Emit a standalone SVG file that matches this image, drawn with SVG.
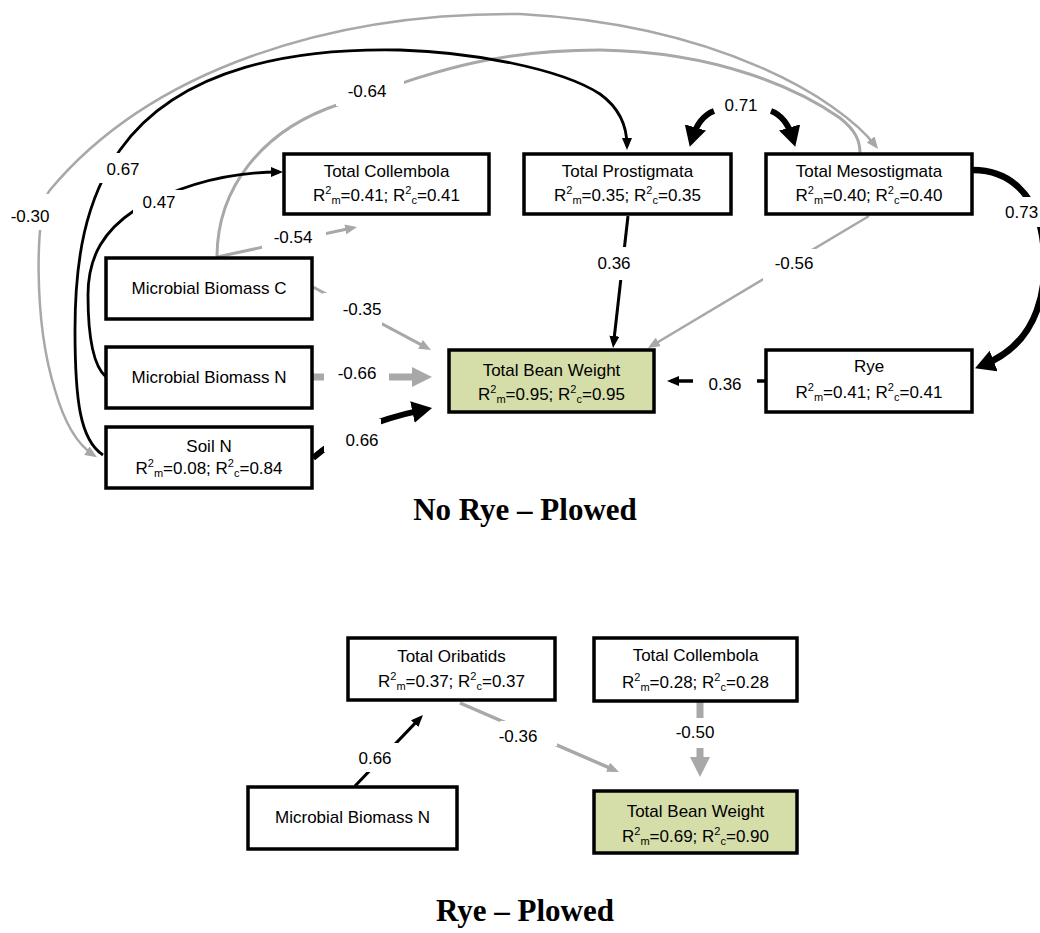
<svg xmlns="http://www.w3.org/2000/svg" width="1040" height="933" viewBox="0 0 1040 933">
  <style>
    .box { fill: #ffffff; stroke: #000000; stroke-width: 3.5; }
    .bean { fill: #d5dda9; }
    .t { font-family: "Liberation Sans", Arial, sans-serif; font-size: 17px; text-anchor: middle; fill: #000000; }
    .s { font-size: 11px; }
    .k { stroke: #000000; fill: none; }
    .g { stroke: #a8a8a8; fill: none; }
    .bg { fill: #ffffff; }
    .title { font-family: "Liberation Serif", "Times New Roman", serif; font-weight: bold; font-size: 31px; text-anchor: middle; fill: #000000; }
  </style>
  <defs>
    <marker id="ak" viewBox="0 0 12 10" refX="8" refY="5" markerWidth="12" markerHeight="10" markerUnits="userSpaceOnUse" orient="auto">
      <path d="M0,0 L12,5 L0,10 z" fill="#000000"/>
    </marker>
    <marker id="ag" viewBox="0 0 12 10" refX="8" refY="5" markerWidth="12" markerHeight="10" markerUnits="userSpaceOnUse" orient="auto">
      <path d="M0,0 L12,5 L0,10 z" fill="#a8a8a8"/>
    </marker>
    <marker id="ag-start" viewBox="0 0 12 10" refX="8" refY="5" markerWidth="12" markerHeight="10" markerUnits="userSpaceOnUse" orient="auto-start-reverse">
      <path d="M0,0 L12,5 L0,10 z" fill="#a8a8a8"/>
    </marker>
    <marker id="AK" viewBox="0 0 20 22" refX="12" refY="11" markerWidth="20" markerHeight="22" markerUnits="userSpaceOnUse" orient="auto">
      <path d="M0,0 L20,11 L0,22 z" fill="#000000"/>
    </marker>
    <marker id="AG" viewBox="0 0 20 20" refX="12" refY="10" markerWidth="20" markerHeight="20" markerUnits="userSpaceOnUse" orient="auto">
      <path d="M0,0 L20,10 L0,20 z" fill="#a8a8a8"/>
    </marker>
  </defs>

  <rect x="0" y="0" width="1040" height="933" fill="#ffffff"/>

  <!-- paths between variables -->
  <g id="connectors">
    <!-- upper model: No Rye - Plowed -->
    <path class="g" stroke-width="2.5" marker-start="url(#ag-start)" marker-end="url(#ag)" d="M 875.6 145.8 C 840 100, 720 25, 520 14 C 330 12, 150 70, 50 190 C 35 208, 33 320, 55 390 C 65 425, 78 445, 93.6 455"/>
    <path class="g" stroke-width="3" d="M 217 257 C 217 190, 260 130, 340 104 C 420 78, 480 50, 600 50 C 720 52, 800 90, 840 118 C 855 130, 860 140, 860 153"/>
    <path class="k" stroke-width="2.8" marker-end="url(#ak)" d="M 103 455 C 80 440, 75 400, 75 330 C 75 260, 85 200, 120 150 C 180 65, 300 48, 400 50 C 470 52, 560 68, 600 94 C 618 107, 627 125, 627 146"/>
    <path class="k" stroke-width="2.8" marker-end="url(#ak)" d="M 106 377 C 92 365, 88 330, 88 295 C 88 255, 105 230, 135 210 C 180 185, 226 172, 279 172"/>
    <path class="g" stroke-width="3" marker-end="url(#ag)" d="M 217 257 L 353.1 227.8"/>
    <path class="g" stroke-width="3" marker-end="url(#ag)" d="M 313 287 L 427.5 348.1"/>
    <path class="g" stroke-width="7" marker-end="url(#AG)" d="M 313 377 L 424 377"/>
    <path class="k" stroke-width="6" marker-end="url(#AK)" d="M 313 458 Q 350 425, 424.2 409.6"/>
    <path class="k" stroke-width="3" marker-end="url(#ak)" d="M 628 216 L 613.5 344"/>
    <path class="g" stroke-width="2.5" marker-end="url(#ag)" d="M 869 216 L 651.4 346"/>
    <path class="k" stroke-width="3.5" marker-end="url(#ak)" d="M 765 381 L 671 381"/>
    <path class="k" stroke-width="6.5" marker-end="url(#AK)" d="M 973 170 C 1010 170, 1035 195, 1042 235 C 1050 285, 1040 343, 982.5 365.3"/>
    <path class="k" stroke-width="6" marker-end="url(#AK)" d="M 714 111 C 706 114, 697 122, 692 139"/>
    <path class="k" stroke-width="6" marker-end="url(#AK)" d="M 771 111 C 779 114, 788 122, 793 139"/>

    <!-- lower model: Rye - Plowed -->
    <path class="k" stroke-width="3" marker-end="url(#ak)" d="M 355 786 L 420.2 717.9"/>
    <path class="g" stroke-width="3.5" marker-end="url(#ag)" d="M 460 703 L 615.3 770.4"/>
    <path class="g" stroke-width="7" marker-end="url(#AG)" d="M 700 702 L 700 769"/>

    <!-- coefficient labels with clearing behind them -->
    <g id="edge-labels">
      <rect class="bg" x="336" y="74" width="68" height="32"/>
      <rect class="bg" x="90" y="153" width="55" height="30"/>
      <rect class="bg" x="133" y="190" width="55" height="24"/>
      <rect class="bg" x="6" y="194" width="48" height="36"/>
      <rect class="bg" x="262" y="229" width="64" height="20"/>
      <rect class="bg" x="323" y="293" width="59" height="32"/>
      <rect class="bg" x="324" y="362" width="65" height="30"/>
      <rect class="bg" x="324" y="419" width="57" height="33"/>
      <rect class="bg" x="598" y="247" width="36" height="33"/>
      <rect class="bg" x="763" y="249" width="59" height="32"/>
      <rect class="bg" x="693" y="368" width="64" height="26"/>
      <rect class="bg" x="1000" y="197" width="40" height="30"/>
      <rect class="bg" x="360" y="743" width="38" height="29"/>
      <rect class="bg" x="500" y="721" width="57" height="25"/>
      <rect class="bg" x="682" y="718" width="36" height="30"/>

      <text class="t" x="367" y="97">-0.64</text>
      <text class="t" x="123" y="175">0.67</text>
      <text class="t" x="159" y="208">0.47</text>
      <text class="t" x="30" y="222">-0.30</text>
      <text class="t" x="293" y="243">-0.54</text>
      <text class="t" x="741" y="111">0.71</text>
      <text class="t" x="1005" y="218" style="text-anchor:start">0.73</text>
      <text class="t" x="614" y="269">0.36</text>
      <text class="t" x="794" y="269">-0.56</text>
      <text class="t" x="362" y="315">-0.35</text>
      <text class="t" x="357" y="379">-0.66</text>
      <text class="t" x="362" y="446">0.66</text>
      <text class="t" x="725" y="390">0.36</text>
      <text class="t" x="375" y="764">0.66</text>
      <text class="t" x="518" y="742">-0.36</text>
      <text class="t" x="695" y="738">-0.50</text>
    </g>
  </g>

  <!-- upper model nodes -->
  <g id="top-collembola">
    <rect class="box" x="284" y="154" width="205" height="60"/>
    <text class="t" x="386.5" y="177">Total Collembola</text>
    <text class="t" x="386.5" y="201">R<tspan class="s" dy="-7">2</tspan><tspan class="s" dy="10">m</tspan><tspan dy="-3">=0.41; R</tspan><tspan class="s" dy="-7">2</tspan><tspan class="s" dy="10">c</tspan><tspan dy="-3">=0.41</tspan></text>
  </g>
  <g id="top-prostigmata">
    <rect class="box" x="524" y="154" width="207" height="60"/>
    <text class="t" x="627.5" y="177">Total Prostigmata</text>
    <text class="t" x="627.5" y="201">R<tspan class="s" dy="-7">2</tspan><tspan class="s" dy="10">m</tspan><tspan dy="-3">=0.35; R</tspan><tspan class="s" dy="-7">2</tspan><tspan class="s" dy="10">c</tspan><tspan dy="-3">=0.35</tspan></text>
  </g>
  <g id="top-mesostigmata">
    <rect class="box" x="766" y="154" width="206" height="60"/>
    <text class="t" x="869" y="177">Total Mesostigmata</text>
    <text class="t" x="869" y="201">R<tspan class="s" dy="-7">2</tspan><tspan class="s" dy="10">m</tspan><tspan dy="-3">=0.40; R</tspan><tspan class="s" dy="-7">2</tspan><tspan class="s" dy="10">c</tspan><tspan dy="-3">=0.40</tspan></text>
  </g>
  <g id="top-biomass-c">
    <rect class="box" x="106" y="258" width="206" height="61"/>
    <text class="t" x="209" y="294">Microbial Biomass C</text>
  </g>
  <g id="top-biomass-n">
    <rect class="box" x="106" y="347" width="206" height="61"/>
    <text class="t" x="209" y="383">Microbial Biomass N</text>
  </g>
  <g id="top-soil-n">
    <rect class="box" x="106" y="427" width="206" height="61"/>
    <text class="t" x="209" y="452">Soil N</text>
    <text class="t" x="209" y="474">R<tspan class="s" dy="-7">2</tspan><tspan class="s" dy="10">m</tspan><tspan dy="-3">=0.08; R</tspan><tspan class="s" dy="-7">2</tspan><tspan class="s" dy="10">c</tspan><tspan dy="-3">=0.84</tspan></text>
  </g>
  <g id="top-bean-weight">
    <rect class="box bean" x="449" y="350" width="205" height="62"/>
    <text class="t" x="551.5" y="376">Total Bean Weight</text>
    <text class="t" x="551.5" y="400">R<tspan class="s" dy="-7">2</tspan><tspan class="s" dy="10">m</tspan><tspan dy="-3">=0.95; R</tspan><tspan class="s" dy="-7">2</tspan><tspan class="s" dy="10">c</tspan><tspan dy="-3">=0.95</tspan></text>
  </g>
  <g id="top-rye">
    <rect class="box" x="766" y="350" width="206" height="62"/>
    <text class="t" x="869" y="372">Rye</text>
    <text class="t" x="869" y="398">R<tspan class="s" dy="-7">2</tspan><tspan class="s" dy="10">m</tspan><tspan dy="-3">=0.41; R</tspan><tspan class="s" dy="-7">2</tspan><tspan class="s" dy="10">c</tspan><tspan dy="-3">=0.41</tspan></text>
  </g>

  <!-- lower model nodes -->
  <g id="bottom-oribatids">
    <rect class="box" x="348" y="638" width="207" height="62"/>
    <text class="t" x="451.5" y="662">Total Oribatids</text>
    <text class="t" x="451.5" y="687">R<tspan class="s" dy="-7">2</tspan><tspan class="s" dy="10">m</tspan><tspan dy="-3">=0.37; R</tspan><tspan class="s" dy="-7">2</tspan><tspan class="s" dy="10">c</tspan><tspan dy="-3">=0.37</tspan></text>
  </g>
  <g id="bottom-collembola">
    <rect class="box" x="594" y="638" width="203" height="63"/>
    <text class="t" x="695.5" y="661">Total Collembola</text>
    <text class="t" x="695.5" y="688">R<tspan class="s" dy="-7">2</tspan><tspan class="s" dy="10">m</tspan><tspan dy="-3">=0.28; R</tspan><tspan class="s" dy="-7">2</tspan><tspan class="s" dy="10">c</tspan><tspan dy="-3">=0.28</tspan></text>
  </g>
  <g id="bottom-biomass-n">
    <rect class="box" x="248" y="787" width="209" height="62"/>
    <text class="t" x="352.5" y="823">Microbial Biomass N</text>
  </g>
  <g id="bottom-bean-weight">
    <rect class="box bean" x="594" y="791" width="203" height="62"/>
    <text class="t" x="695.5" y="817">Total Bean Weight</text>
    <text class="t" x="695.5" y="842">R<tspan class="s" dy="-7">2</tspan><tspan class="s" dy="10">m</tspan><tspan dy="-3">=0.69; R</tspan><tspan class="s" dy="-7">2</tspan><tspan class="s" dy="10">c</tspan><tspan dy="-3">=0.90</tspan></text>
  </g>

  <!-- panel titles -->
  <text class="title" x="525" y="520">No Rye – Plowed</text>
  <text class="title" x="525" y="921">Rye – Plowed</text>
</svg>
